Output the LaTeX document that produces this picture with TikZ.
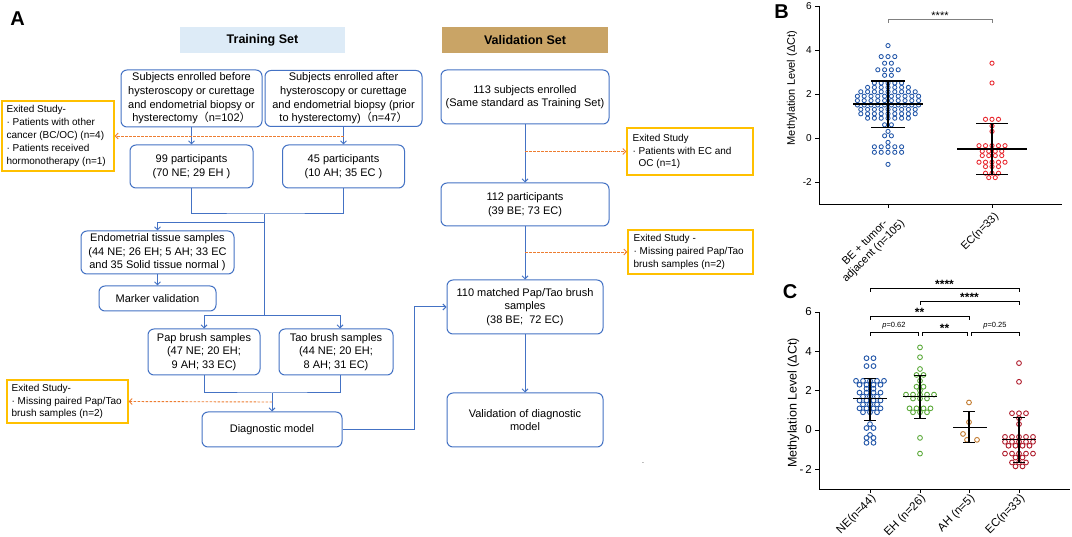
\documentclass[tikz,border=0pt]{standalone}
\usepackage{fontspec}
\setmainfont{Liberation Sans}
\newfontfamily\cjk{Noto Sans CJK SC}
\usetikzlibrary{arrows.meta}
\definecolor{boxblue}{HTML}{4472C4}
\definecolor{exitorange}{HTML}{FFC000}
\definecolor{dashorange}{HTML}{ED7D31}
\definecolor{trainfill}{HTML}{DDEBF7}
\definecolor{valfill}{HTML}{C9A466}
\definecolor{dblue}{HTML}{2155A8}
\definecolor{dred}{HTML}{E8262D}
\definecolor{dgreen}{HTML}{5DAA3C}
\definecolor{dorange}{HTML}{C27A2E}
\definecolor{ddred}{HTML}{B01E2E}
\newcommand{\boxfont}{\fontsize{11}{13.6}\selectfont}
\newcommand{\exitfont}{\fontsize{10}{12.8}\selectfont}
\newcommand{\hdrfont}{\fontsize{12.5}{14}\selectfont\bfseries}
\newcommand{\swarm}[7]{%
  \foreach \v/\n in {#7} {
    \foreach \i in {1,...,\n} {
      \draw[#6] ({#1+(\i-(\n+1)/2)*#4}, {#2-#3*(\v)}) circle[radius=#5];
    }
  }
}
\begin{document}
\begin{tikzpicture}[x=1pt,y=-1pt,
  box/.style={draw=boxblue, line width=1pt, rounded corners=6pt, align=center, inner sep=0pt, font=\boxfont},
  exitbox/.style={draw=exitorange, line width=1.2pt, inner sep=0pt},
  exittext/.style={align=left, inner sep=0pt, font=\exitfont, anchor=west},
  hdr/.style={inner sep=0pt, font=\hdrfont},
  conn/.style={draw=boxblue, line width=1pt},
  arr/.style={conn, -{Straight Barb[length=3pt,width=6pt]}},
  exitarr/.style={draw=dashorange, line width=0.9pt, dash pattern=on 2.5pt off 1.5pt, -{Straight Barb[length=3pt,width=6pt]}},
  plab/.style={font=\fontsize{20}{20}\selectfont\bfseries, inner sep=0pt},
  axis/.style={line width=0.9pt, draw=black},
  tickB/.style={font=\fontsize{10}{10}\selectfont, anchor=east, inner sep=0pt},
  tickC/.style={font=\fontsize{11.5}{11.5}\selectfont, anchor=east, inner sep=0pt},
  xlB/.style={font=\fontsize{11}{12}\selectfont, rotate=45, anchor=east, inner sep=0pt},
  xlC/.style={font=\fontsize{11.5}{12}\selectfont, rotate=45, anchor=east, inner sep=0pt},
  bar/.style={line width=1.2pt, draw=black},
  brk/.style={line width=0.8pt, draw=black},
  star/.style={font=\fontsize{12}{12}\selectfont\bfseries, anchor=base, inner sep=0pt},
  pval/.style={font=\fontsize{7.5}{8}\selectfont, anchor=base, inner sep=0pt},
]
\fill[white] (0,0) rectangle (1072,537);
\useasboundingbox (0,0) rectangle (1072,537);

% ---------------- Panel A ----------------
\node[plab] (labA) at (17.5,19) {A};
\node[hdr, fill=trainfill, minimum width=165pt, minimum height=26pt] (trh) at (262.5,40) {Training Set};
\node[hdr, fill=valfill, minimum width=166pt, minimum height=26pt] (vah) at (525,40) {Validation Set};

\node[box, minimum width=141pt, minimum height=57pt] (b1) at (191.5,98.5)
  {Subjects enrolled before\\hysteroscopy or curettage\\and endometrial biopsy or\\hysterectomy{\cjk （}n=102{\cjk ）}};
\node[box, minimum width=157pt, minimum height=56pt] (b2) at (343.5,98.5)
  {Subjects enrolled after\\hysteroscopy or curettage\\and endometrial biopsy (prior\\to hysterectomy){\cjk （}n=47{\cjk ）}};
\node[box, minimum width=123pt, minimum height=43pt] (b3) at (191.5,166.5) {99 participants\\(70 NE; 29 EH )};
\node[box, minimum width=122pt, minimum height=43pt] (b4) at (343.5,166.5) {45 participants\\(10 AH; 35 EC )};
\node[box, minimum width=153pt, minimum height=43pt] (endo) at (157.5,252.5)
  {Endometrial tissue samples\\(44 NE; 26 EH; 5 AH; 33 EC\\and 35 Solid tissue normal )};
\node[box, minimum width=117pt, minimum height=25pt] (mark) at (157.5,298.5) {Marker validation};
\node[box, minimum width=112pt, minimum height=46pt] (pap) at (204,352) {Pap brush samples\\(47 NE; 20 EH;\\9 AH; 33 EC)};
\node[box, minimum width=114pt, minimum height=46pt] (tao) at (336,352) {Tao brush samples\\(44 NE; 20 EH;\\8 AH; 31 EC)};
\node[box, minimum width=140pt, minimum height=35pt] (diag) at (272,429.5) {Diagnostic model};

\node[box, minimum width=168pt, minimum height=54pt] (v113) at (525,97) {113 subjects enrolled\\(Same standard as Training Set)};
\node[box, minimum width=168pt, minimum height=43pt] (v112) at (525,204.5) {112 participants\\(39 BE; 73 EC)};
\node[box, minimum width=156pt, minimum height=54pt] (v110) at (525,307) {110 matched Pap/Tao brush\\samples\\(38 BE;~~72 EC)};
\node[box, minimum width=156pt, minimum height=54pt] (vval) at (525,420) {Validation of diagnostic\\model};

% exit boxes
\node[exitbox, minimum width=112pt, minimum height=70pt] (e1) at (58,136) {};
\node[exittext] (e1t) at ([xshift=5pt]e1.west) {Exited Study-\\· Patients with other\\cancer (BC/OC) (n=4)\\· Patients received\\hormonotherapy (n=1)};
\node[exitbox, minimum width=121pt, minimum height=43pt] (e2) at (67.5,401.5) {};
\node[exittext] (e2t) at ([xshift=5pt]e2.west) {Exited Study-\\· Missing paired Pap/Tao\\brush samples (n=2)};
\node[exitbox, minimum width=126pt, minimum height=47pt] (e3) at (690,151.5) {};
\node[exittext] (e3t) at ([xshift=6pt]e3.west) {Exited Study\\· Patients with EC and\\\hphantom{· }OC (n=1)};
\node[exitbox, minimum width=125pt, minimum height=44pt] (e4) at (690.5,252) {};
\node[exittext] (e4t) at ([xshift=6pt]e4.west) {Exited Study -\\· Missing paired Pap/Tao\\brush samples (n=2)};

% connectors training
\draw[arr] (b1.south) -- (b3.north);
\draw[arr] (b2.south) -- (b4.north);
\coordinate (d1) at (343.5,136);
\draw[exitarr] (d1) -- (e1.east);
\coordinate (j) at (264,214);
\coordinate (j2) at (264,223);
\coordinate (k) at (264,316);
\draw[conn] (b3.south) |- (j) -| (b4.south);
\draw[conn] (j) -- (k);
\draw[arr] (j2) -| (endo.north);
\draw[arr] (endo.south) -- (mark.north);
\draw[arr] (k) -| (pap.north);
\draw[arr] (k) -| ([xshift=4pt]tao.north);
\coordinate (k2) at (272,393);
\draw[conn] (pap.south) |- (k2) -| ([xshift=4pt]tao.south);
\draw[arr] (k2) -- (diag.north);
\coordinate (d2) at (272,402);
\draw[exitarr] (d2) -- (e2.east);
\coordinate (t) at (414,429.5);
\draw[arr] (diag.east) -- (t) |- (v110.west);

% connectors validation
\draw[arr] (v113.south) -- (v112.north);
\draw[arr] (v112.south) -- (v110.north);
\draw[arr] (v110.south) -- (vval.north);
\coordinate (d3) at (525,151.5);
\draw[exitarr] (d3) -- (e3.west);
\coordinate (d4) at (525,252);
\draw[exitarr] (d4) -- (e4.west);
\node[font=\fontsize{7}{7}\selectfont, inner sep=0pt] (dot) at (643,463) {.};

% ---------------- Panel B ----------------
\node[plab] (labB) at (781.5,11.5) {B};
\draw[axis] (819,6) -- (819,204) -- (1062,204);
\foreach \v in {6,4,2,0,-2} {
  \draw[axis] (815,{138-22*(\v)}) -- (819,{138-22*(\v)});
}
\node[tickB] (tb6) at (812,6) {6};
\node[tickB] (tb4) at (812,50) {4};
\node[tickB] (tb2) at (812,94) {2};
\node[tickB] (tb0) at (812,138) {0};
\node[tickB] (tbm2) at (812,182) {-2};
\draw[axis] (888,204) -- (888,208);
\draw[axis] (992,204) -- (992,208);
\node[font=\fontsize{11}{11}\selectfont, rotate=90, inner sep=0pt] (ylB) at (792,88) {Methylation Level (ΔCt)};
\node[xlB, align=center] (xb1) at (899,218) {BE + tumor-\\adjacent (n=105)};
\node[xlB] (xb2) at (997,215) {EC(n=33)};
\draw[line width=0.8pt, draw=gray] (888,23) -- (888,19) -- (992,19) -- (992,23);
\node[font=\fontsize{11}{11}\selectfont, anchor=base, inner sep=0pt] (sB) at (940,19.5) {****};

\swarm{888}{138}{22}{6.8}{2.1}{draw=dblue, line width=0.85pt}{4.2/1, 3.7/3, 3.4/2, 3.1/4, 2.85/2, 2.5/5, 2.3/7, 2.1/9, 1.9/10, 1.7/10, 1.5/10, 1.3/9, 1.1/9, 0.9/7, 0.6/2, 0.3/1, 0.1/2, -0.2/1, -0.4/5, -0.65/5, -1.2/1}
\swarm{992}{138}{22}{6.5}{2.1}{draw=dred, line width=0.85pt}{3.4/1, 2.5/1, 0.85/3, 0.55/1, 0.3/1, -0.35/5, -0.6/4, -0.8/4, -1.1/5, -1.3/3, -1.6/3, -1.8/2}

\draw[bar] (853,104) -- (923,104);
\draw[bar] (888,81) -- (888,127.7);
\draw[bar] (871,81) -- (905,81);
\draw[bar] (871,127.7) -- (905,127.7);
\draw[bar] (957,149) -- (1027,149);
\draw[bar] (992,123.7) -- (992,174.7);
\draw[bar] (976,123.7) -- (1008,123.7);
\draw[bar] (976,174.7) -- (1008,174.7);

% ---------------- Panel C ----------------
\node[plab] (labC) at (790,291.5) {C};
\draw[axis] (819,312) -- (819,489) -- (1070,489);
\foreach \v in {6,4,2,0,-2} {
  \draw[axis] (815,{430-19.67*(\v)}) -- (819,{430-19.67*(\v)});
}
\node[tickC] (tc6) at (812,312) {6};
\node[tickC] (tc4) at (812,351.3) {4};
\node[tickC] (tc2) at (812,390.7) {2};
\node[tickC] (tc0) at (812,430) {0};
\node[tickC] (tcm2) at (812,469.3) {-\,2};
\foreach \x in {870,920,969,1019} { \draw[axis] (\x,489) -- (\x,493); }
\node[font=\fontsize{12.5}{12.5}\selectfont, rotate=90, inner sep=0pt] (ylC) at (793.5,403) {Methylation Level (ΔCt)};
\node[xlC] (xc1) at (874,497) {NE(n=44)};
\node[xlC] (xc2) at (924,497) {EH (n=26)};
\node[xlC] (xc3) at (973,497) {AH (n=5)};
\node[xlC] (xc4) at (1023,497) {EC(n=33)};

\draw[brk] (870,292) -- (870,288) -- (1019,288) -- (1019,292);
\node[star] (s1) at (944.5,289) {****};
\draw[brk] (920,305) -- (920,301) -- (1019,301) -- (1019,305);
\node[star] (s2) at (969.5,302) {****};
\draw[brk] (870,320) -- (870,316) -- (969,316) -- (969,320);
\node[star] (s3) at (919.5,317) {**};
\draw[brk] (870,336) -- (870,332) -- (918,332) -- (918,336);
\node[pval] (p1) at (894,328) {\textit{p}=0.62};
\draw[brk] (922,336) -- (922,332) -- (967,332) -- (967,336);
\node[star] (s4) at (944.5,333) {**};
\draw[brk] (971,336) -- (971,332) -- (1019,332) -- (1019,336);
\node[pval] (p2) at (995,328) {\textit{p}=0.25};

\swarm{870}{430}{19.67}{7}{2.4}{draw=dblue, line width=0.9pt}{3.65/2, 3.25/2, 2.5/5, 2.3/4, 2.1/2, 1.9/4, 1.7/3, 1.5/4, 1.3/3, 1.1/4, 0.9/3, 0.3/1, 0.1/2, -0.25/1, -0.4/2, -0.65/2}
\swarm{920}{430}{19.67}{7}{2.4}{draw=dgreen, line width=0.9pt}{4.2/1, 3.7/1, 3.1/1, 2.8/2, 2.5/1, 2.2/2, 2.0/1, 1.8/5, 1.6/3, 1.1/4, 0.9/3, -0.4/1, -1.2/1}
\foreach \px/\pv in {969/1.4, 969/0.4, 963/-0.2, 967/-0.5, 977/-0.5} {
  \draw[draw=dorange, line width=0.9pt] (\px,{430-19.67*(\pv)}) circle[radius=2.4];
}
\swarm{1019}{430}{19.67}{7}{2.4}{draw=ddred, line width=0.9pt}{3.4/1, 2.45/1, 0.85/3, 0.6/1, 0.3/1, -0.35/5, -0.6/5, -0.8/4, -1.2/5, -1.4/2, -1.65/3, -1.85/2}

\draw[bar] (853,398.5) -- (887,398.5);
\draw[bar] (870,378.8) -- (870,420.2);
\draw[bar] (864,378.8) -- (876,378.8);
\draw[bar] (864,420.2) -- (876,420.2);
\draw[bar] (903,396.5) -- (937,396.5);
\draw[bar] (920,375.8) -- (920,418.6);
\draw[bar] (914,375.8) -- (926,375.8);
\draw[bar] (914,418.6) -- (926,418.6);
\draw[bar] (953,427.4) -- (987,427.4);
\draw[bar] (969,411.9) -- (969,442.8);
\draw[bar] (963,411.9) -- (975,411.9);
\draw[bar] (963,442.8) -- (975,442.8);
\draw[bar] (1002,439.9) -- (1036,439.9);
\draw[bar] (1019,417.2) -- (1019,462.9);
\draw[bar] (1013,417.2) -- (1025,417.2);
\draw[bar] (1013,462.9) -- (1025,462.9);
\end{tikzpicture}
\end{document}
